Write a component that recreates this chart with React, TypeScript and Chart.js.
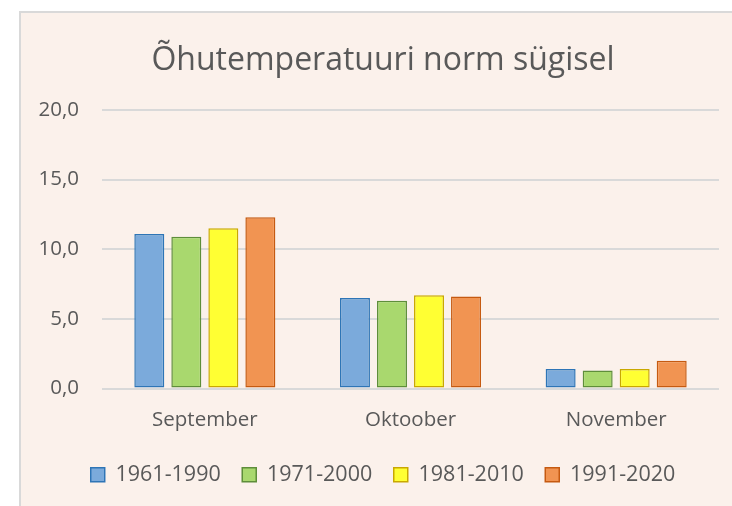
import React, { useEffect, useRef } from "react";
import { Chart, registerables } from "chart.js";

Chart.register(...registerables);

const categories = ["September", "Oktoober", "November"];
const seriesLabels = ["1961-1990", "1971-2000", "1981-2010", "1991-2020"];
const values1961 = [11.1, 6.5, 1.4];
const values1971 = [10.9, 6.3, 1.3];
const values1981 = [11.5, 6.7, 1.4];
const values1991 = [12.3, 6.6, 2.0];
const yTicks = [0, 5, 10, 15, 20];
const titleText = "Õhutemperatuuri norm sügisel";

const fills = ["#7BAADB", "#A9D86E", "#FFFF33", "#F19452"];
const borders = ["#2E75B6", "#5E8E3A", "#C9A800", "#C55A11"];

export default function App() {
  const ref = useRef<HTMLCanvasElement | null>(null);

  useEffect(() => {
    document.body.style.margin = "0";
    const canvas = ref.current;
    if (!canvas) return;
    const seriesValues = [values1961, values1971, values1981, values1991];
    const chart = new Chart(canvas, {
      type: "bar",
      data: {
        labels: categories,
        datasets: seriesLabels.map((label, i) => ({
          label,
          data: seriesValues[i],
          backgroundColor: fills[i],
          borderColor: borders[i],
          borderWidth: 1.5,
          borderSkipped: false,
          categoryPercentage: 0.72,
          barPercentage: 0.81,
        })),
      },
      options: {
        responsive: false,
        animation: false,
        devicePixelRatio: 1,
        font: { family: "'Open Sans', sans-serif", size: 20.5 },
        color: "#595959",
        layout: { padding: { left: 47, right: 13, top: 0, bottom: 10.5 } },
        plugins: {
          tooltip: { enabled: false },
          title: {
            display: true,
            text: titleText,
            color: "#595959",
            font: { family: "'Open Sans', sans-serif", size: 32, weight: "normal" },
            padding: { top: 42, bottom: 29.6 },
          },
          legend: {
            position: "bottom",
            labels: {
              color: "#595959",
              font: { family: "'Open Sans', sans-serif", size: 21.5 },
              boxWidth: 14,
              boxHeight: 14,
              padding: 21.5,
            },
          },
        },
        scales: {
          x: {
            grid: { display: false },
            border: { display: false },
            ticks: {
              color: "#595959",
              font: { family: "'Open Sans', sans-serif", size: 20.5 },
              padding: 11,
            },
            afterFit: (scale: any) => {
              scale.height = 54;
            },
          },
          y: {
            min: 0,
            max: 20,
            afterBuildTicks: (scale: any) => {
              scale.ticks = yTicks.map((v) => ({ value: v }));
            },
            grid: { color: "#D9D9D9", lineWidth: 2, drawTicks: false },
            border: { display: false },
            ticks: {
              color: "#595959",
              font: { family: "'Open Sans', sans-serif", size: 20.5 },
              padding: 23,
              callback: (v: any) => Number(v).toFixed(1).replace(".", ","),
            },
            afterFit: (scale: any) => {
              scale.width = 55;
              // let the tick labels extend left of the narrow axis box
              scale._computeLabelArea = () => undefined;
            },
          },
        },
      },
    });
    return () => chart.destroy();
  }, []);

  return (
    <div style={{ position: "fixed", left: 0, top: 0, width: 732, height: 506, background: "#FFFFFF" }}>
      <div
        style={{
          position: "absolute",
          left: 19,
          top: 11,
          width: 713,
          height: 495,
          background: "#FBF1EB",
          borderLeft: "2px solid #D9D9D9",
          borderTop: "2px solid #D9D9D9",
          boxSizing: "border-box",
        }}
      />
      <canvas
        ref={ref}
        width={732}
        height={506}
        style={{ position: "absolute", left: 0, top: 0, width: 732, height: 506 }}
      />
    </div>
  );
}
